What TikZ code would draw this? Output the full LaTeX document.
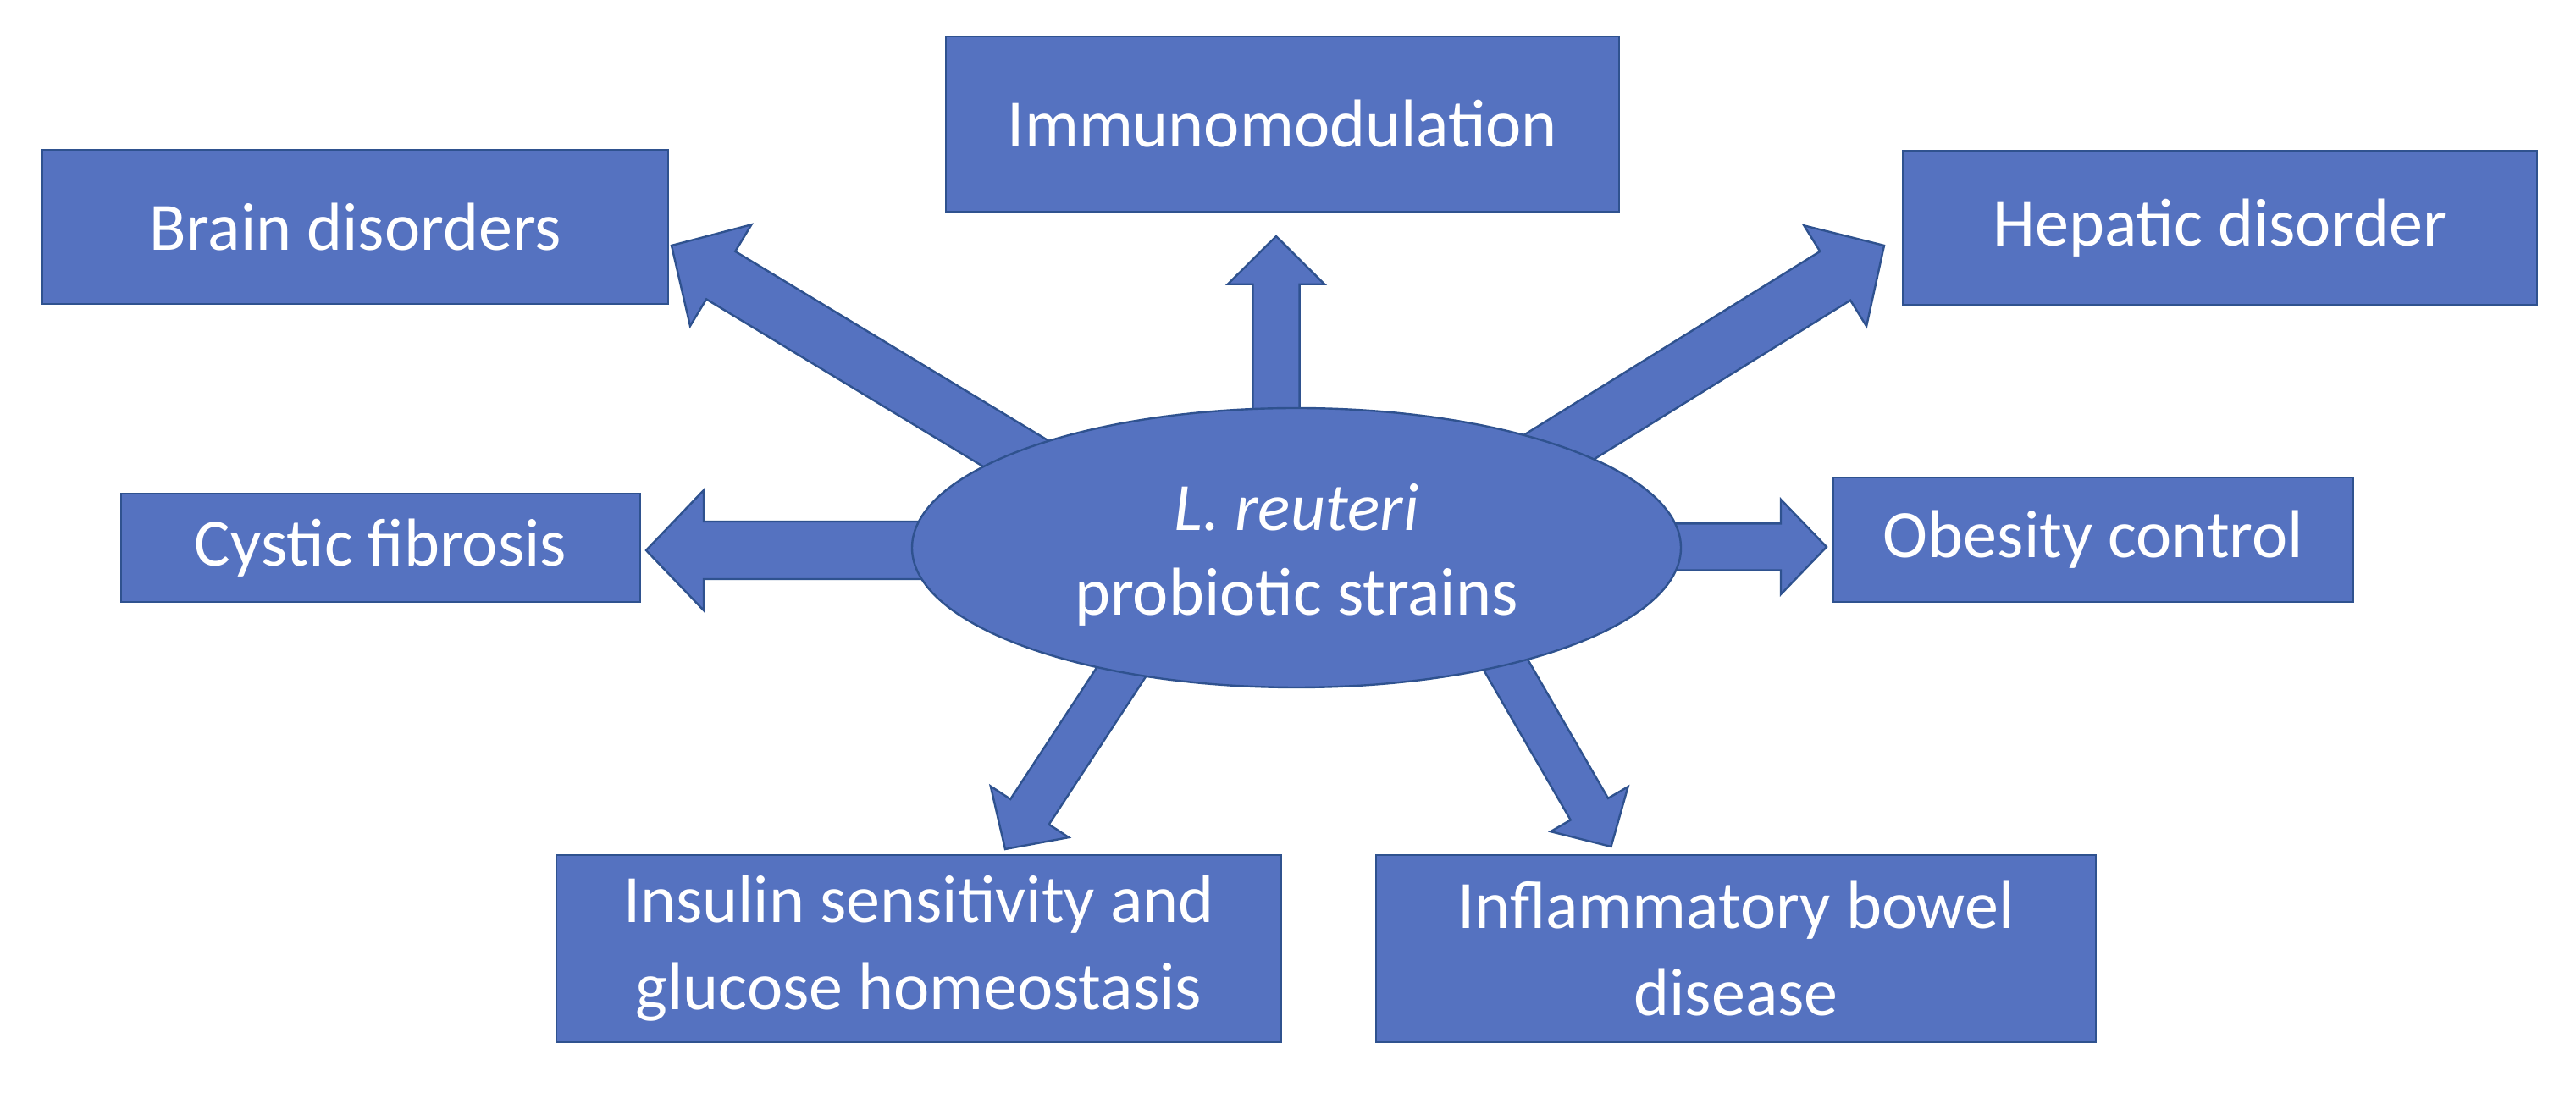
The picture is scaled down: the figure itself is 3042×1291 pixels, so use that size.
\documentclass[tikz,border=0pt]{standalone}
\usepackage{fontspec}
\setmainfont{Carlito}
\usetikzlibrary{shapes.geometric,calc,backgrounds}
\definecolor{boxfill}{HTML}{5572C0}
\definecolor{boxline}{HTML}{2F528F}
% #1 start, #2 tip, #3 half shaft width, #4 half head width, #5 head length
\newcommand{\blockarrow}[5]{%
  \coordinate (ba-b) at ($(#2)!#5!(#1)$);
  \draw[blockarr] ($(#1)!#3!90:(#2)$) -- ($(ba-b)!#3!90:(#2)$) -- ($(ba-b)!#4!90:(#2)$) -- (#2)
    -- ($(ba-b)!#4!-90:(#2)$) -- ($(ba-b)!#3!-90:(#2)$) -- ($(#1)!#3!-90:(#2)$) -- cycle;}
\begin{document}
\begin{tikzpicture}[x=0.25pt,y=-0.25pt,
  box/.style={rectangle, fill=boxfill, draw=boxline, line width=0.6pt, inner sep=0pt,
    text=white, font=\fontsize{20}{25.75}\selectfont, align=center},
  hub/.style={ellipse, fill=boxfill, draw=boxline, line width=0.6pt, inner sep=0pt,
    minimum width=227pt, minimum height=82.5pt},
  hubtext/.style={inner sep=0pt, text=white, font=\fontsize{20}{25}\selectfont, align=center},
  blockarr/.style={fill=boxfill, draw=boxline, line width=0.6pt, line join=miter}]
\useasboundingbox (0,0) rectangle (3042,1291);

\node[hub] (hub) at (1531,647) {};
\node[hubtext] (hubt) at ($(hub.center)+(0,8)$) {\textit{L. reuteri}\\probiotic strains};

\node[box, minimum width=184.75pt, minimum height=45.5pt] (brain) at (419.5,268) {Brain disorders};
\node[box, minimum width=198.75pt, minimum height=51.75pt] (immuno) at (1514.5,146.5) {Immunomodulation};
\node[box, minimum width=187.25pt, minimum height=45.5pt] (hepatic) at (2621.5,269) {Hepatic disorder};
\node[box, minimum width=153.25pt, minimum height=32pt] (cystic) at (449.5,647) {Cystic fibrosis};
\node[box, minimum width=153.5pt, minimum height=36.75pt] (obesity) at (2472,637.5) {Obesity control};
\node[box, minimum width=214pt, minimum height=55.25pt] (insulin) at (1085,1120.5) {Insulin sensitivity and\\glucose homeostasis};
\node[box, minimum width=212.5pt, minimum height=55.25pt] (ibd) at (2050,1120.5) {Inflammatory bowel\\disease};

% arrow tips
\coordinate (tBrain) at (793,290);
\coordinate (tImmuno) at (1507,279);
\coordinate (tHepatic) at (2225,290);
\coordinate (tCystic) at (763,650);
\coordinate (tObesity) at (2157,646);
\coordinate (tInsulin) at (1187,1003);
\coordinate (tIbd) at (1902.5,1000);
% arrow starts, hidden inside the hub
\coordinate (sBrain) at ($(hub.center)+(-293,-88)$);
\coordinate (sImmuno) at ($(hub.center)+(-24,-87)$);
\coordinate (sHepatic) at ($(hub.center)+(269,-93.5)$);
\coordinate (sCystic) at ($(hub.center)+(-381,3)$);
\coordinate (sObesity) at ($(hub.center)+(369,-1)$);
\coordinate (sInsulin) at ($(hub.center)+(-152.2,63.4)$);
\coordinate (sIbd) at ($(hub.center)+(196,50)$);

\begin{pgfonlayer}{background}
\fill[white] (0,0) rectangle (3042,1291);
\blockarrow{sBrain}{tBrain}{8.25pt}{17.5pt}{17pt}
\blockarrow{sHepatic}{tHepatic}{8.5pt}{17.5pt}{17pt}
\blockarrow{sCystic}{tCystic}{8.5pt}{17.75pt}{17pt}
\blockarrow{sImmuno}{tImmuno}{6.9pt}{14.3pt}{14.2pt}
\blockarrow{sObesity}{tObesity}{6.9pt}{14pt}{13.5pt}
\blockarrow{sInsulin}{tInsulin}{6.8pt}{13.8pt}{13.2pt}
\blockarrow{sIbd}{tIbd}{6.4pt}{13.2pt}{12.8pt}
\end{pgfonlayer}
\end{tikzpicture}
\end{document}
